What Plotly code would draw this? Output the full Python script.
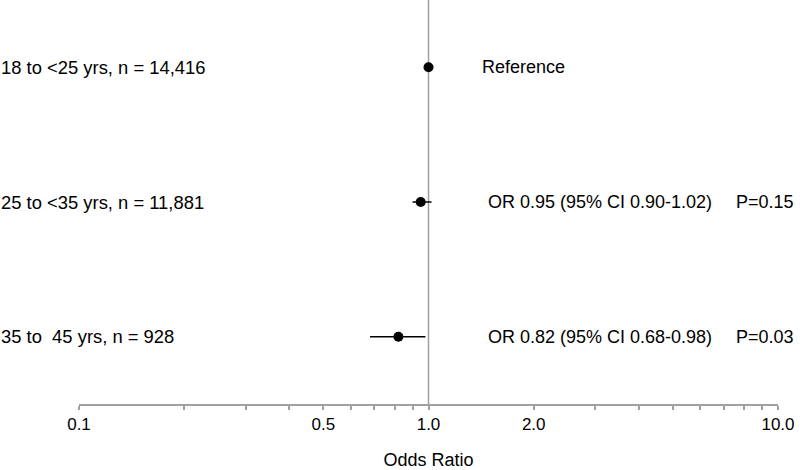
import plotly.graph_objects as go

# Data
groups = ["18 to <25 yrs, n = 14,416", "25 to <35 yrs, n = 11,881", "35 to  45 yrs, n = 928"]
odds_ratio = [1.0, 0.95, 0.82]
ci_low = [None, 0.90, 0.68]
ci_high = [None, 1.02, 0.98]
or_text = ["Reference", "OR 0.95 (95% CI 0.90-1.02)", "OR 0.82 (95% CI 0.68-0.98)"]
p_text = ["", "P=0.15", "P=0.03"]
tick_vals = [0.1, 0.2, 0.3, 0.4, 0.5, 0.6, 0.7, 0.8, 0.9, 1.0,
             2.0, 3.0, 4.0, 5.0, 6.0, 7.0, 8.0, 9.0, 10.0]
tick_labels = {0.1: "0.1", 0.5: "0.5", 1.0: "1.0", 2.0: "2.0", 10.0: "10.0"}

ypos = [3, 2, 1]
FONT = "Liberation Sans, Arial, Helvetica, sans-serif"
FS = 18

fig = go.Figure()

# CI lines
for i in range(len(groups)):
    if ci_low[i] is not None:
        fig.add_trace(go.Scatter(x=[ci_low[i], ci_high[i]], y=[ypos[i], ypos[i]],
                                 mode="lines", line=dict(color="black", width=1.5),
                                 showlegend=False, hoverinfo="skip"))

fig.add_trace(go.Scatter(x=odds_ratio, y=ypos, mode="markers",
                         marker=dict(color="black", size=10),
                         showlegend=False))

# Reference line at 1.0
fig.add_shape(type="line", x0=1.0, x1=1.0, xref="x", y0=0, y1=1, yref="paper",
              line=dict(color="#a0a0a0", width=1.5), layer="below")

L, R, T, B = 79, 22, 0, 66
W = 800 - L - R

for i, g in enumerate(groups):
    fig.add_annotation(text=g, xref="paper", x=-(L + 1) / W, xanchor="left",
                       y=ypos[i], yref="y", showarrow=False,
                       font=dict(size=18.4, color="black", family=FONT))
    ox = (480 - L) / W if i == 0 else (486 - L) / W
    fig.add_annotation(text=or_text[i], xref="paper", x=ox, xanchor="left",
                       y=ypos[i], yref="y", showarrow=False,
                       font=dict(size=FS, color="black", family=FONT))
    if p_text[i]:
        fig.add_annotation(text=p_text[i], xref="paper", x=(734 - L) / W, xanchor="left",
                           y=ypos[i], yref="y", showarrow=False,
                           font=dict(size=FS, color="black", family=FONT))

fig.update_xaxes(type="log", range=[-1, 1],
                 tickvals=tick_vals,
                 ticktext=[tick_labels.get(v, "") for v in tick_vals],
                 ticks="outside", ticklen=4, tickcolor="#a0a0a0", tickwidth=1.5,
                 showline=True, linecolor="#a0a0a0", linewidth=1.5,
                 showgrid=False, zeroline=False,
                 tickfont=dict(size=17, color="black", family=FONT),
                 title=dict(text="Odds Ratio", font=dict(size=FS, color="black", family=FONT), standoff=22))
fig.update_yaxes(range=[0.5, 3.5], visible=False, showgrid=False, zeroline=False)

fig.update_layout(width=800, height=470, margin=dict(l=L, r=R, t=T, b=B),
                  plot_bgcolor="white", paper_bgcolor="white",
                  font=dict(family=FONT, color="black"))

fig.write_html("out.html", config={"displayModeBar": False},
               post_script="document.body.style.margin='0px';")
